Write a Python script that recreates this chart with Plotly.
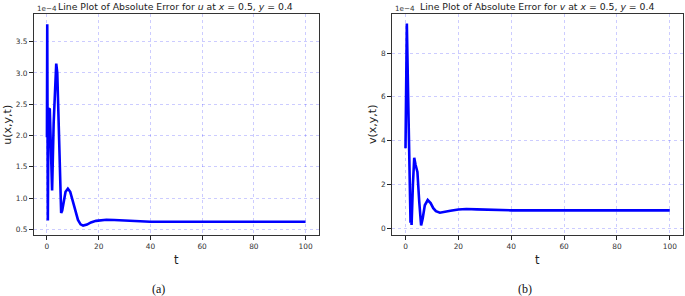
import plotly.graph_objects as go

# ---- data (errors in units of 1e-4) ----
t_u = [0, 0.12, 0.35, 0.6, 1.1, 2.0, 2.6, 3.2, 3.6, 4.0, 4.6, 5.1, 5.5, 5.9, 6.5, 7.2, 8.1, 9.0,
       10.0, 11.0, 12.0, 13.0, 14.0, 15.5, 17.0, 19.0, 21.0, 23.0, 26.0, 30.0, 35.0, 40.0, 50.0, 60.0, 80.0, 100.0]
u_err = [1.97, 3.78, 0.64, 2.43, 2.42, 1.12, 2.2, 3.0, 3.15, 3.0, 2.0, 1.1, 0.76, 0.8, 0.95, 1.1, 1.15, 1.1,
         0.95, 0.78, 0.65, 0.58, 0.56, 0.575, 0.61, 0.635, 0.648, 0.652, 0.648, 0.638, 0.628, 0.622, 0.62, 0.62, 0.62, 0.62]

t_v = [0, 0.5, 1.0, 1.5, 1.9, 2.1, 2.3, 2.8, 3.3, 3.8, 4.5, 5.2, 5.9, 6.5, 7.3, 8.4, 9.5, 10.5, 11.5,
       13.0, 15.0, 17.0, 20.0, 23.0, 27.0, 32.0, 40.0, 60.0, 80.0, 100.0]
v_err = [3.65, 9.35, 6.0, 2.35, 0.25, 0.6, 0.15, 2.0, 3.22, 2.9, 2.57, 1.2, 0.13, 0.45, 1.05, 1.29, 1.15, 0.92, 0.78,
         0.71, 0.74, 0.8, 0.86, 0.88, 0.865, 0.84, 0.82, 0.82, 0.82, 0.82]

x_ticks = [0, 20, 40, 60, 80, 100]
u_ticks = [0.5, 1.0, 1.5, 2.0, 2.5, 3.0, 3.5]
u_tick_labels = ["0.5", "1.0", "1.5", "2.0", "2.5", "3.0", "3.5"]
v_ticks = [0, 2, 4, 6, 8]
v_tick_labels = ["0", "2", "4", "6", "8"]

W, H = 685, 296
FONT = "DejaVu Sans"
GRID = "rgba(0,0,255,0.2)"

fig = go.Figure()
fig.add_trace(go.Scatter(x=t_u, y=u_err, mode="lines", line=dict(color="#0000ff", width=2.6),
                         xaxis="x", yaxis="y", showlegend=False))
fig.add_trace(go.Scatter(x=t_v, y=v_err, mode="lines", line=dict(color="#0000ff", width=2.6),
                         xaxis="x2", yaxis="y2", showlegend=False))

def px(x):
    return x / W

def py(y):
    return 1 - y / H

common_axis = dict(showline=True, mirror=True, linecolor="#333333", linewidth=1,
                   ticks="outside", ticklen=4, tickwidth=1, tickcolor="#222222",
                   showgrid=True, gridcolor=GRID, griddash="dot", gridwidth=0.7,
                   zeroline=False, tickfont=dict(family=FONT, size=7.4, color="#333333"))

fig.update_layout(
    width=W, height=H, margin=dict(l=0, r=0, t=0, b=0),
    paper_bgcolor="white", plot_bgcolor="white",
    xaxis=dict(domain=[px(34), px(318.5)], range=[-5, 105], tickvals=x_ticks, anchor="y", **common_axis),
    yaxis=dict(domain=[py(235), py(14)], range=[0.409, 3.942], tickvals=u_ticks, ticktext=u_tick_labels,
               anchor="x", **common_axis),
    xaxis2=dict(domain=[px(392.3), px(683)], range=[-5, 105], tickvals=x_ticks, anchor="y2", **common_axis),
    yaxis2=dict(domain=[py(235), py(14)], range=[-0.306, 9.78], tickvals=v_ticks, ticktext=v_tick_labels,
                anchor="x2", **common_axis),
)

def ann(text, x, y, size, family=FONT, color="#222222", angle=0, xanchor="center"):
    fig.add_annotation(text=text, x=px(x), y=py(y), xref="paper", yref="paper", showarrow=False,
                       xanchor=xanchor, yanchor="middle", textangle=angle,
                       font=dict(family=family, size=size, color=color))

ann("Line Plot of Absolute Error for <i>u</i> at <i>x</i> = 0.5, <i>y</i> = 0.4", 175.5, 6, 9.3)
ann("Line Plot of Absolute Error for <i>v</i> at <i>x</i> = 0.5, <i>y</i> = 0.4", 536.5, 6, 9.3)
ann("1e\u22124", 34.5, 8.5, 7.2, color="#333333", xanchor="left")
ann("1e\u22124", 393, 8.5, 7.2, color="#333333", xanchor="left")
ann("u(x,y,t)", 6.7, 125, 11, angle=-90)
ann("v(x,y,t)", 372, 125, 11, angle=-90)
ann("t", 176.5, 260, 11.5)
ann("t", 537.5, 260, 11.5)
ann("(a)", 158, 289, 12, family="Liberation Serif", color="#111111")
ann("(b)", 524.5, 289, 12, family="Liberation Serif", color="#111111")

fig.write_html("out.html", config={"displayModeBar": False},
               post_script="document.body.style.margin='0px';document.body.style.overflow='hidden';")
